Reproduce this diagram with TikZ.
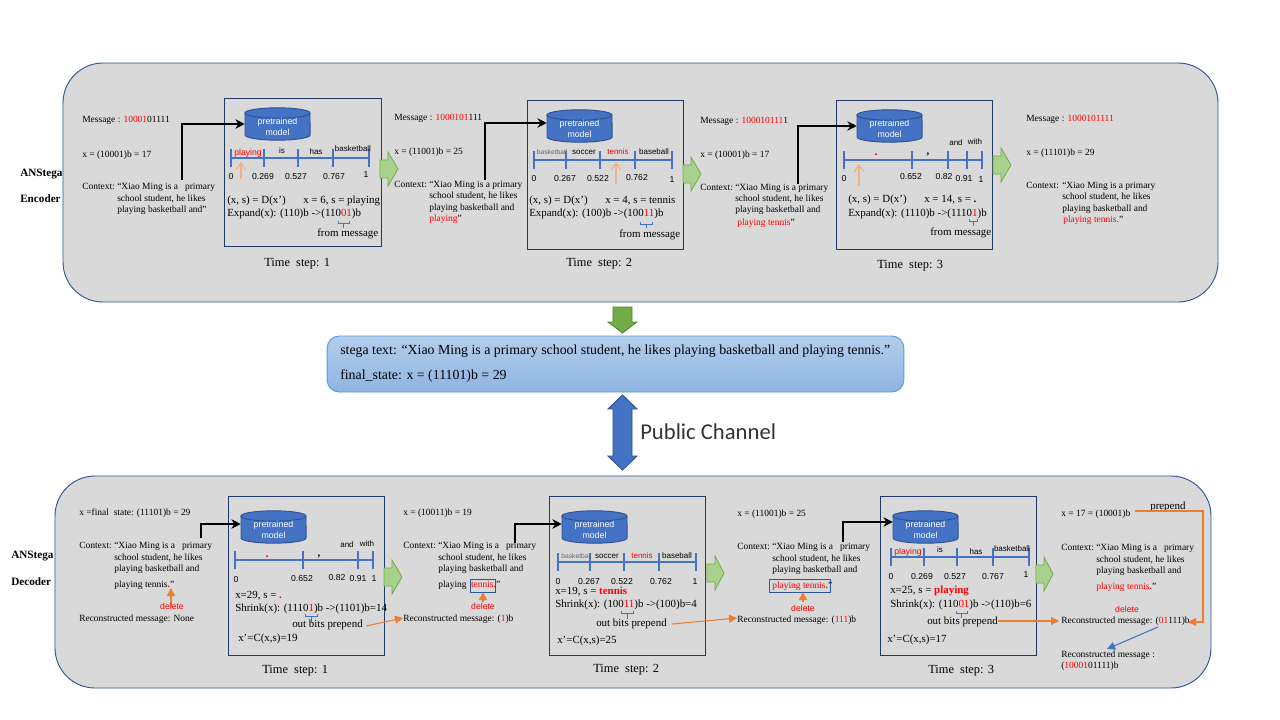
\documentclass[tikz,border=0pt]{standalone}
\usepackage{fontspec}
\setmainfont{Liberation Serif}
\setsansfont{Liberation Sans}
\newfontfamily\pcfont{Carlito}
\usetikzlibrary{arrows.meta}
\definecolor{panelfill}{HTML}{D9D9D9}
\definecolor{navy}{HTML}{203864}
\definecolor{panelline}{HTML}{2F5597}
\definecolor{axisblue}{HTML}{4472C4}
\definecolor{cylline}{HTML}{2F528F}
\definecolor{orng}{HTML}{ED7D31}
\definecolor{lorng}{HTML}{F4B183}
\definecolor{rred}{HTML}{FF0000}
\definecolor{grnfill}{HTML}{A9D18E}
\definecolor{grnline}{HTML}{70AD47}
\definecolor{dgrn}{HTML}{548235}
\definecolor{stegatop}{HTML}{B3CEEC}
\definecolor{stegabot}{HTML}{8FB4E2}
\definecolor{stegaline}{HTML}{5B9BD5}
\newcommand{\rd}[1]{\textcolor{rred}{#1}}
\newcommand{\dotp}{{\rmfamily\bfseries\fontsize{9}{9}\selectfont .}}
\newcommand{\comm}{{\rmfamily\bfseries\fontsize{8}{8}\selectfont ,}}
\newcounter{tn}
\tikzset{
 body/.style={inner sep=0pt,anchor=base west,font=\fontsize{7.1}{8.5}\selectfont},
 sidel/.style={inner sep=0pt,anchor=base west,font=\bfseries\fontsize{8.4}{9}\selectfont},
 big/.style={inner sep=0pt,anchor=base west,font=\fontsize{8.2}{9}\selectfont},
 stepl/.style={inner sep=0pt,anchor=base west,font=\fontsize{9.3}{10}\selectfont},
 lab/.style={inner sep=0pt,anchor=base,font=\sffamily\fontsize{6.5}{7}\selectfont},
 smlab/.style={inner sep=0pt,anchor=base,font=\sffamily\fontsize{6}{7}\selectfont},
 tnlab/.style={inner sep=0pt,anchor=base,text=black!60,font=\sffamily\fontsize{5}{6}\selectfont},
 panel/.style={draw=panelline,fill=panelfill,line width=0.7pt,rounded corners=30pt},
 stepbox/.style={draw=navy,line width=0.7pt},
 axisl/.style={draw=axisblue,line width=1.3pt},
 feed/.style={draw=black,line width=1.6pt,-{Stealth[length=7pt,width=7pt]}},
 pick/.style={draw=lorng,line width=0.9pt,-{Straight Barb[length=5pt,width=7pt]}},
 del/.style={draw=orng,line width=1pt,-{Triangle[length=6pt,width=6pt]}},
 outb/.style={draw=orng,line width=0.8pt,-{Triangle[length=6pt,width=6pt]}},
 brc/.style={draw=axisblue,line width=0.6pt},
 hilite/.style={draw=panelline,line width=0.7pt},
 cyl/.style={draw=cylline,fill=axisblue,line width=0.7pt},
 cylt/.style={inner sep=0pt,align=center,text=white,font=\sffamily\fontsize{6.6}{8}\selectfont},
 grnarr/.style={draw=grnline,fill=grnfill,line width=0.6pt},
}
\newcommand{\tx}[3]{\stepcounter{tn}\node[body] (t\arabic{tn}) at (#1,#2) {#3};}
\newcommand{\bg}[3]{\stepcounter{tn}\node[big] (t\arabic{tn}) at (#1,#2) {#3};}
\newcommand{\stp}[3]{\stepcounter{tn}\node[stepl] (t\arabic{tn}) at (#1,#2) {#3};}
\newcommand{\lb}[3]{\stepcounter{tn}\node[lab] (t\arabic{tn}) at (#1,#2) {#3};}
\newcommand{\smlb}[3]{\stepcounter{tn}\node[smlab] (t\arabic{tn}) at (#1,#2) {#3};}
\newcommand{\tnlb}[3]{\stepcounter{tn}\node[tnlab] (t\arabic{tn}) at (#1,#2) {#3};}
% cylinder: name, cx, cy
\newcommand{\cylinderat}[3]{
 \draw[cyl] (#2-32.5,#3-11) -- (#2-32.5,#3+11) arc[x radius=24.4pt,y radius=3.9pt,start angle=180,end angle=360] -- (#2+32.5,#3-11) arc[x radius=24.4pt,y radius=3.9pt,start angle=0,end angle=180] -- cycle;
 \draw[cyl] (#2-32.5,#3-11) arc[x radius=24.4pt,y radius=3.9pt,start angle=180,end angle=360];
 \node[inner sep=0pt,minimum width=48.75pt,minimum height=24pt] (#1) at (#2,#3) {};
 \node[cylt] (#1l) at (#2,#3+3) {pretrained\\model};
}
% axis: y, first, last, ticks
\newcommand{\tlaxis}[4]{
 \draw[axisl] (#2,#1) -- (#3,#1);
 \foreach \tk in {#4} {\draw[axisl] (\tk,#1-9) -- (\tk,#1+9);}
}
% brace: x1, x2, y-top, y-stem-end
\newcommand{\brk}[4]{
 \draw[brc] (#1,#3) -- (#1,#3+2.5) -- (#2,#3+2.5) -- (#2,#3);
 \draw[brc] ({(#1+#2)/2},#3+2.5) -- ({(#1+#2)/2},#4);
}
% right block arrow: x1, x2, ymid
\newcommand{\greenarr}[3]{
 \draw[grnarr] (#1,#3-9) -- (#1+8,#3-9) -- (#1+8,#3-17) -- (#2,#3) -- (#1+8,#3+17) -- (#1+8,#3+9) -- (#1,#3+9) -- cycle;
}
\begin{document}
\begin{tikzpicture}[x=0.75pt,y=-0.75pt]
\useasboundingbox (0,0) rectangle (1280,720);
\fill[white] (0,0) rectangle (1280,720);
% panels
\draw[panel] (63,63) rectangle (1218,302);
\draw[panel] (55,476) rectangle (1211,688);
% side labels
\node[sidel] (enca) at (20,177) {ANStega};
\node[sidel] (encb) at (20,203) {Encoder};
\node[sidel] (deca) at (11,558) {ANStega};
\node[sidel] (decb) at (11,585) {Decoder};
% step boxes
\draw[stepbox] (224,98) rectangle (381,246);
\draw[stepbox] (527,100) rectangle (683,249);
\draw[stepbox] (836,100) rectangle (992,249);
\draw[stepbox] (228,496) rectangle (384,655);
\draw[stepbox] (549,496) rectangle (705,655);
\draw[stepbox] (880,496) rectangle (1036,655);
% ---------- encoder step 1
\tx{82}{123}{Message : \rd{10001}01111}
\tx{82}{158}{x = (10001)b = 17}
\tx{82}{190}{Context:}
\tx{117}{190}{“Xiao Ming is a\ \ \ primary}
\tx{117}{202}{school student, he likes}
\tx{117}{213}{playing basketball and”}
\cylinderat{ec1}{277.5}{124}
\coordinate (ef1) at (182,180);
\draw[feed] (ef1) |- (ec1.west);
\tlaxis{158}{231}{369}{231,264,298,333,369}
\lb{248}{156}{\rd{playing}}\smlb{282}{154}{is}\smlb{316}{155}{has}\smlb{353}{152}{basketball}
\lb{231}{180}{0}\lb{263}{180}{0.269}\lb{296}{180}{0.527}\lb{334}{180}{0.767}\lb{366}{178}{1}
\coordinate (ep1a) at (241,179);\coordinate (ep1b) at (241,162);
\draw[pick] (ep1a) -- (ep1b);
\bg{227}{204}{(x, s) = D(x’)}\bg{303}{204}{x = 6, s = playing}
\bg{227}{217}{Expand(x): (110)b ->(110\rd{01})b}
\brk{338}{349}{221}{228}
\bg{317}{237}{from message}
\stp{264}{266}{Time\ \ step: 1}
\greenarr{380}{398}{169}
% ---------- encoder step 2
\tx{394}{121}{Message : \rd{1000101}111}
\tx{394}{155}{x = (11001)b = 25}
\tx{394}{188}{Context:}
\tx{429}{188}{“Xiao Ming is a primary}
\tx{429}{199}{school student, he likes}
\tx{429}{211}{playing basketball and}
\tx{429}{222}{\rd{playing}”}
\cylinderat{ec2}{579.5}{126}
\coordinate (ef2) at (485,180);
\draw[feed] (ef2) |- ([yshift=2.25pt]ec2.west);
\tlaxis{160}{534}{672}{534,566,600,635,672}
\tnlb{552}{155}{basketball}\smlb{584}{155}{soccer}\smlb{618}{155}{\rd{tennis}}\smlb{654}{155}{baseball}
\lb{534}{182}{0}\lb{565}{182}{0.267}\lb{598}{182}{0.522}\lb{637}{181}{0.762}\lb{672}{183}{1}
\coordinate (ep2a) at (616,184);\coordinate (ep2b) at (616,162);
\draw[pick] (ep2a) -- (ep2b);
\bg{529}{204}{(x, s) = D(x’)}\bg{605}{204}{x = 4, s = tennis}
\bg{529}{217}{Expand(x): (100)b ->(100\rd{11})b}
\brk{640}{652}{222}{228}
\bg{619}{238}{from message}
\stp{566}{267}{Time\ \ step: 2}
\greenarr{683}{701}{174}
% ---------- encoder step 3
\tx{700}{124}{Message : \rd{100010111}1}
\tx{700}{158}{x = (10001)b = 17}
\tx{700}{191}{Context:}
\tx{735}{191}{“Xiao Ming is a primary}
\tx{735}{202}{school student, he likes}
\tx{735}{213}{playing basketball and}
\tx{737}{225}{\rd{playing tennis}”}
\cylinderat{ec3}{889.5}{126}
\coordinate (ef3) at (798,184);
\draw[feed] (ef3) |- (ec3.west);
\tlaxis{160}{844}{982}{844,912,948,967,982}
\lb{876}{156}{\rd{\dotp}}\lb{928}{155}{\comm}\smlb{956}{146}{and}\smlb{975}{145}{with}
\lb{844}{182}{0}\lb{911}{180}{0.652}\lb{944}{180}{0.82}\lb{964}{182}{0.91}\lb{981}{183}{1}
\coordinate (ep3a) at (859,186);\coordinate (ep3b) at (859,164);
\draw[pick] (ep3a) -- (ep3b);
\bg{848}{203}{(x, s) = D(x’)}\bg{924}{203}{x = 14, s = \textbf{.}}
\bg{848}{217}{Expand(x): (1110)b ->(1110\rd{1})b}
\brk{969}{977}{219}{226}
\bg{930}{236}{from message}
\stp{877}{268}{Time\ \ step: 3}
\greenarr{993}{1011}{165}
% ---------- encoder result
\tx{1026}{122}{Message : \rd{1000101111}}
\tx{1026}{156}{x = (11101)b = 29}
\tx{1026}{189}{Context:}
\tx{1062}{189}{“Xiao Ming is a primary}
\tx{1062}{200}{school student, he likes}
\tx{1062}{212}{playing basketball and}
\tx{1063}{223}{\rd{playing tennis.}”}
% ---------- channel
\draw[draw=dgrn,fill=grnline,line width=0.6pt] (613,307) -- (632,307) -- (632,322) -- (637,322) -- (622.5,333) -- (608,322) -- (613,322) -- cycle;
\node[draw=stegaline,top color=stegatop,bottom color=stegabot,rounded corners=9pt,line width=0.7pt,minimum width=432.5pt,minimum height=42pt,inner sep=0pt] (stega) at (615.5,364) {};
\node[inner sep=0pt,anchor=base west,font=\fontsize{10.4}{11}\selectfont] (st1) at (340,354) {stega text: “Xiao Ming is a primary school student, he likes playing basketball and playing tennis.”};
\node[inner sep=0pt,anchor=base west,font=\fontsize{10.4}{11}\selectfont] (st2) at (340,379) {final\_state: x = (11101)b = 29};
\draw[draw=cylline,fill=axisblue,line width=0.7pt] (622.5,395) -- (637,409) -- (632,409) -- (632,456) -- (637,456) -- (622.5,470) -- (608,456) -- (613,456) -- (613,409) -- (608,409) -- cycle;
\node[inner sep=0pt,anchor=base west,font=\pcfont\fontsize{17}{19}\selectfont,text=black!80] (pub) at (640,439) {Public Channel};
% ---------- decoder step 1
\tx{79}{515}{x =final\ \ state: (11101)b = 29}
\tx{79}{548}{Context:}
\tx{114}{548}{“Xiao Ming is a\ \ \ primary}
\tx{114}{560}{school student, he likes}
\tx{114}{571}{playing basketball and}
\tx{114}{587}{playing tennis\rd{\textbf{.}}”}
\coordinate (dd1a) at (171,606);\coordinate (dd1b) at (171,588);
\draw[del] (dd1a) -- (dd1b);
\lb{172}{609}{\rd{delete}}
\tx{79}{621}{Reconstructed message: None}
\cylinderat{dc1}{273.5}{527}
\coordinate (df1) at (201,538);
\draw[feed] (df1) |- ([yshift=2.25pt]dc1.west);
\tlaxis{560}{235}{373}{235,303,358,373}
\lb{267}{557}{\rd{\dotp}}\lb{319}{556}{\comm}\smlb{347}{547}{and}\smlb{367}{546}{with}
\lb{236}{582}{0}\lb{302}{581}{0.652}\lb{337}{580}{0.82}\lb{358}{581}{0.91}\lb{374}{581}{1}
\bg{235}{598}{x=29, s = \rd{\textbf{.}}}
\bg{235}{611}{Shrink(x): (1110\rd{1})b ->(1101)b=14}
\brk{305}{317}{614}{622}
\bg{292}{627}{out bits prepend}
\bg{238}{641}{x’=C(x,s)=19}
\stp{262}{673}{Time\ \ step: 1}
\greenarr{384}{402}{577}
% ---------- decoder step 2
\tx{403}{515}{x = (10011)b = 19}
\tx{403}{548}{Context:}
\tx{438}{548}{“Xiao Ming is a\ \ \ primary}
\tx{438}{560}{school student, he likes}
\tx{438}{571}{playing basketball and}
\tx{438}{587}{playing \hspace{1.5pt}\rd{tennis\textbf{.}}”}
\draw[hilite] (470,579) rectangle (495,592);
\coordinate (dd2a) at (483,602);\coordinate (dd2b) at (483,592);
\draw[del] (dd2a) -- (dd2b);
\lb{483}{609}{\rd{delete}}
\tx{403}{621}{Reconstructed message: (\rd{1})b}
\cylinderat{dc2}{594.5}{527}
\coordinate (df2) at (515,543);
\draw[feed] (df2) |- ([yshift=2.25pt]dc2.west);
\tlaxis{562}{558}{696}{558,590,624,659,696}
\tnlb{576.5}{558}{basketball}\smlb{607}{558}{soccer}\smlb{642}{558}{\rd{tennis}}\smlb{677}{558}{baseball}
\lb{558}{584}{0}\lb{589}{584}{0.267}\lb{622}{584}{0.522}\lb{661}{584}{0.762}\lb{695}{584}{1}
\bg{555}{594}{x=19, s = \rd{\textbf{tennis}}}
\bg{555}{607}{Shrink(x): (100\rd{11})b ->(100)b=4}
\brk{621}{633}{611}{619}
\bg{596}{626}{out bits prepend}
\bg{557}{643}{x’=C(x,s)=25}
\stp{593}{672}{Time\ \ step: 2}
\greenarr{707}{724}{573}
% ---------- decoder step 3
\tx{737}{516}{x = (11001)b = 25}
\tx{737}{549}{Context:}
\tx{772}{549}{“Xiao Ming is a\ \ \ primary}
\tx{772}{561}{school student, he likes}
\tx{772}{572}{playing basketball and}
\tx{772}{588}{\rd{playing tennis\textbf{.}}”}
\draw[hilite] (769,579) rectangle (830,592);
\coordinate (dd3a) at (803,602);\coordinate (dd3b) at (803,592);
\draw[del] (dd3a) -- (dd3b);
\lb{803}{611}{\rd{delete}}
\tx{737}{622}{Reconstructed message: (\rd{111})b}
\cylinderat{dc3}{925.5}{527}
\coordinate (df3) at (843,542);
\draw[feed] (df3) |- ([yshift=3.75pt]dc3.west);
\tlaxis{557}{891}{1029}{891,924,957,993,1029}
\lb{908}{554}{\rd{playing}}\smlb{940}{552}{is}\smlb{976}{554}{has}\smlb{1012}{551}{basketball}
\lb{891}{579}{0}\lb{922}{579}{0.269}\lb{955}{579}{0.527}\lb{993}{579}{0.767}\lb{1026}{577}{1}
\bg{890}{593}{x=25, s = \rd{\textbf{playing}}}
\bg{890}{607}{Shrink(x): (110\rd{01})b ->(110)b=6}
\brk{956}{967}{611}{618}
\bg{927}{624}{out bits prepend}
\bg{887}{642}{x’=C(x,s)=17}
\stp{928}{673}{Time\ \ step: 3}
\greenarr{1036}{1053}{574}
% ---------- decoder result
\tx{1061}{516}{x = 17 = (10001)b}
\bg{1150}{509}{prepend}
\tx{1061}{550}{Context:}
\tx{1096}{550}{“Xiao Ming is a\ \ \ primary}
\tx{1096}{562}{school student, he likes}
\tx{1096}{573}{playing basketball and}
\tx{1096}{589}{\rd{playing tennis\textbf{.}}”}
\lb{1127}{612}{\rd{delete}}
\tx{1061}{623}{Reconstructed message: (\rd{01}111)b}
\tx{1061}{657}{Reconstructed message :}
\tx{1061}{668}{(\rd{10001}01111)b}
% orange connectors
\coordinate (o1a) at (366,626);\coordinate (o1b) at (403,618);
\draw[outb] (o1a) -- (o1b);
\coordinate (o2a) at (672,624);\coordinate (o2b) at (737,618);
\draw[outb] (o2a) -- (o2b);
\coordinate (o3a) at (998,621);\coordinate (o3b) at (1059,621);
\draw[outb] (o3a) -- (o3b);
\coordinate (o4a) at (1135,511);\coordinate (o4c) at (1203,511);\coordinate (o4d) at (1203,622);\coordinate (o4b) at (1188,622);
\draw[outb] (o4a) -- (o4c) -- (o4d) -- (o4b);
\coordinate (b1a) at (1158,627);\coordinate (b1b) at (1107,649);
\draw[draw=axisblue,line width=0.8pt,-{Triangle[length=6pt,width=6pt]}] (b1a) -- (b1b);
\end{tikzpicture}
\end{document}
